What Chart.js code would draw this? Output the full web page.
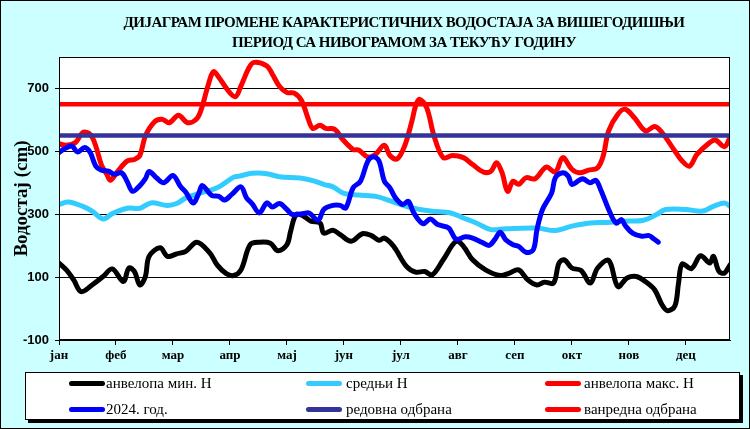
<!DOCTYPE html>
<html>
<head>
<meta charset="utf-8">
<script src="https://cdn.jsdelivr.net/npm/chart.js@4.4.1/dist/chart.umd.min.js"></script>
<style>
  html, body { margin:0; padding:0; background:#ccffff; }
  #wrap { position:relative; width:750px; height:429px; background:#ccffff; overflow:hidden; }
  #c { position:absolute; left:0; top:0; }
  #title { position:absolute; left:0; top:12px; width:808px; text-align:center; letter-spacing:-0.55px;
           font-family:"Liberation Serif", serif; font-weight:bold; font-size:15px; line-height:20px; color:#000; }
  #legend { position:absolute; left:25px; top:372px; width:715px; height:48px; box-sizing:border-box;
            background:#fff; border:1px solid #000; box-shadow:3px 3px 0 #000; }
  .sw { position:absolute; width:36px; height:5px; border-radius:3px; }
  .lt { position:absolute; font-family:"Liberation Serif", serif; font-size:15px; line-height:18px; color:#000; white-space:nowrap; }
  #frame { position:absolute; left:0; top:0; width:750px; height:429px; box-sizing:border-box; border:1px solid #000; pointer-events:none; }
</style>
</head>
<body>
<div id="wrap">
  <canvas id="c" width="750" height="429"></canvas>
  <div id="title">ДИЈАГРАМ ПРОМЕНЕ КАРАКТЕРИСТИЧНИХ ВОДОСТАЈА ЗА ВИШЕГОДИШЊИ<br>ПЕРИОД СА НИВОГРАМОМ ЗА ТЕКУЋУ ГОДИНУ</div>
  <div id="legend"></div>
  <div id="frame"></div>
</div>
<script>
// ---- data ----
const monthLabels = ['јан','феб','мар','апр','мај','јун','јул','авг','сеп','окт','нов','дец'];
const monthTicks = [0,31,62,93,124,155,186,217,248,279,310,341];
const yTicks = [-100,100,300,500,700];
const yearDays = 365;

const minDays = [0,4,8,12,18,24,29,35,38,41,44,47,49,55,59,64,69,75,82,86,91,95,99,104,109,115,119,124,126,129,133,137,142,144,149,153,159,165,170,174,177,182,189,194,199,203,209,216,220,225,232,240,245,250,255,260,264,269,272,275,279,284,289,293,299,304,309,314,319,324,328,331,335,337,339,344,349,354,356,359,362,365];
const minValues = [145,123,91,54,75,102,126,86,129,118,75,102,166,193,166,174,182,211,177,139,111,105,123,203,211,208,184,203,246,299,294,278,272,240,249,235,214,238,232,217,224,198,134,116,118,107,155,214,198,155,123,105,113,123,91,75,84,81,145,155,129,121,81,129,153,70,97,102,86,60,12,-7,8,81,142,127,168,145,166,118,113,139];

const meanDays = [0,5,13,18,24,29,37,44,50,59,64,69,76,86,95,98,105,113,120,131,138,144,149,155,163,173,181,191,202,213,220,227,235,243,260,270,279,289,298,307,318,325,330,341,350,356,362,365];
const meanValues = [331,339,325,310,285,302,319,319,336,328,334,352,366,384,418,421,430,429,419,415,407,395,387,366,361,356,341,322,310,304,288,272,251,254,256,248,262,272,274,278,281,299,315,315,310,325,336,325];

const maxDays = [0,4,9,13,17,20,23,26,28,32,37,41,44,47,52,56,60,65,70,75,78,81,84,87,92,96,99,103,106,113,116,120,124,128,132,135,138,142,145,150,154,160,163,168,172,177,180,184,188,192,194,196,200,204,209,214,220,225,231,235,238,241,244,247,250,254,259,265,270,274,279,283,288,293,296,299,304,308,313,319,324,328,335,339,343,347,354,357,362,365];
const maxValues = [524,519,528,560,554,517,458,427,408,437,469,474,487,549,594,602,591,615,591,604,645,708,753,735,693,674,708,762,783,772,746,706,687,685,661,613,573,583,573,570,540,506,504,482,490,519,487,476,517,597,645,666,639,549,480,487,480,458,434,437,464,432,373,405,395,416,413,450,434,480,443,432,440,448,485,565,618,634,607,565,579,560,501,469,453,490,528,536,515,544];

const curDays = [0,3,7,10,14,17,20,23,27,30,34,37,40,44,47,49,53,57,62,66,69,73,76,78,83,87,90,94,99,102,105,109,113,116,120,124,127,133,136,141,144,149,153,156,160,164,168,171,174,177,180,183,187,190,193,198,202,206,212,216,221,225,230,234,237,240,243,247,250,254,258,260,263,268,270,274,277,279,283,285,289,292,295,299,303,306,308,312,317,321,323,326];
const curValues = [496,508,517,498,512,496,453,440,437,427,432,405,373,391,413,436,416,400,423,389,370,336,366,391,360,357,345,363,387,352,334,304,336,323,334,315,299,302,304,281,315,328,328,320,384,405,469,483,470,405,384,352,331,341,304,270,285,267,256,221,228,224,211,201,219,243,219,203,198,179,187,251,315,368,416,432,421,395,408,413,400,408,373,315,272,283,264,240,230,232,224,211];

const regularDefence = 550;
const emergencyDefence = 650;

const seriesLabels = ['анвелопа мин. H','средњи H','анвелопа макс. H','2024. год.','редовна одбрана','ванредна одбрана'];
const seriesColors = ['#000000','#33ccff','#ff0000','#0000ff','#333399','#ff0000'];

// ---- build ----
const pts = (d, v) => d.map((x, i) => ({x, y: v[i]}));
const flat = (v) => [{x:0, y:v}, {x:yearDays, y:v}];
const seriesData = [
  pts(minDays, minValues),
  pts(meanDays, meanValues),
  pts(maxDays, maxValues),
  pts(curDays, curValues),
  flat(regularDefence),
  flat(emergencyDefence)
];

const datasets = seriesData.map((data, i) => ({
  label: seriesLabels[i],
  data,
  borderColor: seriesColors[i],
  backgroundColor: seriesColors[i],
  borderWidth: i >= 4 ? 4.5 : 5,
  pointRadius: 0,
  tension: i >= 4 ? 0 : 0.35,
  borderCapStyle: 'round',
  borderJoinStyle: 'round',
  fill: false,
  order: 10 - i
}));

const plotFrame = {
  id: 'plotFrame',
  beforeDraw(chart) {
    const {ctx, chartArea: a} = chart;
    ctx.save();
    ctx.fillStyle = '#ffffff';
    ctx.fillRect(a.left, a.top, a.right - a.left, a.bottom - a.top);
    ctx.restore();
  },
  afterDraw(chart) {
    const {ctx, chartArea: a} = chart;
    ctx.save();
    ctx.strokeStyle = '#000';
    ctx.lineWidth = 1;
    ctx.strokeRect(Math.round(a.left) + 0.5, Math.round(a.top) + 0.5,
                   Math.round(a.right - a.left) - 1, Math.round(a.bottom - a.top) - 1);
    ctx.restore();
  }
};

new Chart(document.getElementById('c'), {
  type: 'line',
  data: { datasets },
  plugins: [plotFrame],
  options: {
    responsive: false,
    animation: false,
    devicePixelRatio: 1,
    layout: { padding: { top: 57, right: 20, left: 0, bottom: 0 } },
    plugins: { legend: { display: false }, title: { display: false }, tooltip: { enabled: false } },
    scales: {
      x: {
        type: 'linear', min: 0, max: yearDays,
        afterBuildTicks: s => { s.ticks = monthTicks.map(v => ({value: v})); },
        afterFit: s => { s.height = 89; },
        ticks: {
          autoSkip: false, maxRotation: 0, minRotation: 0,
          callback: (v, i) => monthLabels[i],
          color: '#000', padding: 3,
          font: { family: 'Liberation Serif', weight: 'bold', size: 13 }
        },
        grid: { drawOnChartArea: false, drawTicks: true, tickLength: 5, color: '#000', lineWidth: 1 },
        border: { display: true, color: '#000', width: 1 }
      },
      y: {
        type: 'linear', min: -100, max: 800,
        afterBuildTicks: s => { s.ticks = yTicks.map(v => ({value: v})); },
        afterFit: s => { s.width = 59; },
        ticks: {
          color: '#000', padding: 6,
          font: { family: 'Liberation Sans', weight: 'bold', size: 13 }
        },
        grid: { color: '#000', lineWidth: 1, drawTicks: true, tickLength: 4 },
        border: { display: true, color: '#000', width: 1 },
        title: {
          display: true, text: 'Водостај (cm)', color: '#000',
          font: { family: 'Liberation Serif', weight: 'bold', size: 19 },
          padding: { top: 11, bottom: 0 }
        }
      }
    }
  }
});

// ---- HTML legend ----
const legend = document.getElementById('legend');
const colSwatch = [69, 306, 545];
const colText = [106, 346, 584];
const rowY = [383, 409];
seriesLabels.forEach((lab, i) => {
  const c = i % 3, r = Math.floor(i / 3);
  const sw = document.createElement('div');
  sw.className = 'sw';
  sw.style.background = seriesColors[i];
  sw.style.left = (colSwatch[c] - 26) + 'px';
  sw.style.top = (rowY[r] - 372 - 1 - 2.5) + 'px';
  legend.appendChild(sw);
  const t = document.createElement('div');
  t.className = 'lt';
  t.textContent = lab;
  t.style.left = (colText[c] - 26) + 'px';
  t.style.top = (rowY[r] - 372 - 1 - 9) + 'px';
  legend.appendChild(t);
});
</script>
</body>
</html>
